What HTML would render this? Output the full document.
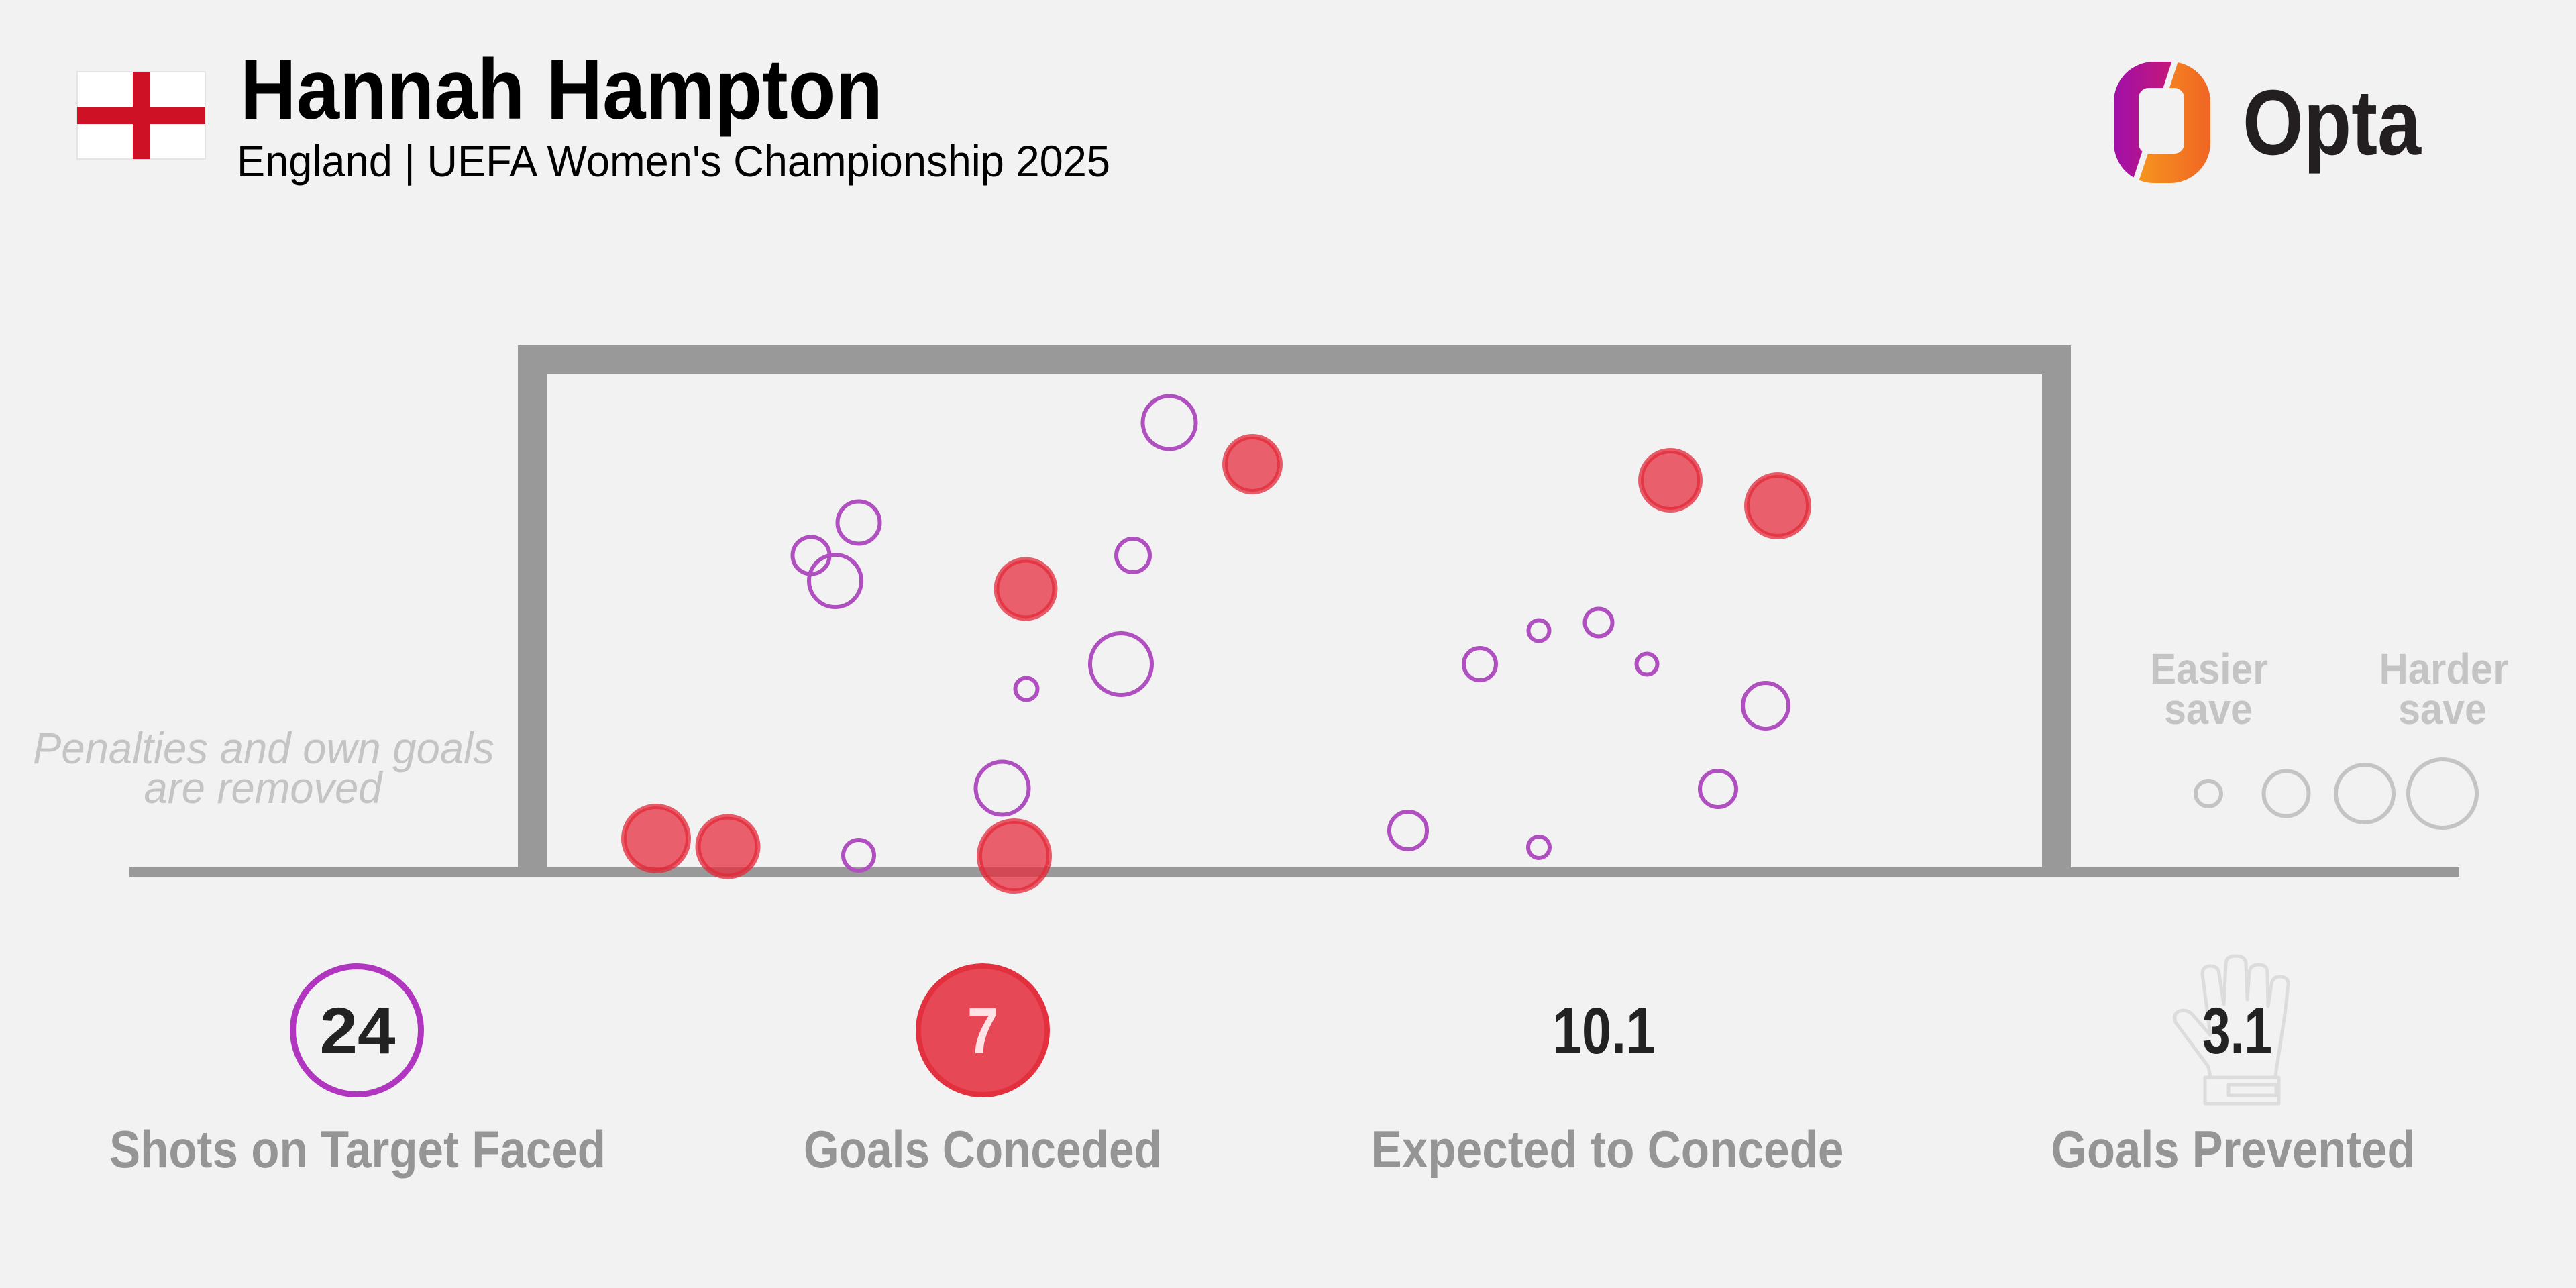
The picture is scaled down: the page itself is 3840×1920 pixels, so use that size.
<!DOCTYPE html>
<html>
<head>
<meta charset="utf-8">
<style>
html,body{margin:0;padding:0;background:#f2f2f2;}
svg{display:block;}
</style>
</head>
<body>
<svg width="3840" height="1920" viewBox="0 0 3840 1920" xmlns="http://www.w3.org/2000/svg" font-family="'Liberation Sans', sans-serif">
  <defs>
    <linearGradient id="gL" x1="0" y1="0" x2="1" y2="0">
      <stop offset="0" stop-color="#a010a8"/>
      <stop offset="1" stop-color="#dc1c58"/>
    </linearGradient>
    <linearGradient id="gR" x1="0" y1="0" x2="1" y2="0">
      <stop offset="0" stop-color="#f8a61c"/>
      <stop offset="1" stop-color="#f06524"/>
    </linearGradient>
    <clipPath id="cL"><polygon points="3100,70 3246,80 3177,290 3100,300"/></clipPath>
    <clipPath id="cR"><polygon points="3246,80 3330,70 3330,300 3177,290"/></clipPath>
  </defs>

  <rect x="0" y="0" width="3840" height="1920" fill="#f2f2f2"/>

  <!-- Flag -->
  <rect x="115" y="107" width="191" height="130" fill="#ffffff" stroke="#e4e4e4" stroke-width="2"/>
  <rect x="198" y="107" width="26" height="130" fill="#ce1124"/>
  <rect x="115" y="159" width="191" height="26" fill="#ce1124"/>

  <!-- Title -->
  <text x="358" y="177" font-size="127" font-weight="bold" fill="#000" textLength="958" lengthAdjust="spacingAndGlyphs">Hannah Hampton</text>
  <text x="353" y="263" font-size="66" fill="#000" textLength="1302" lengthAdjust="spacingAndGlyphs">England | UEFA Women's Championship 2025</text>

  <!-- Opta logo -->
  <g clip-path="url(#cL)">
    <path fill-rule="evenodd" fill="url(#gL)" d="M3211,92 H3235 A60,60 0 0 1 3295,152 V213 A60,60 0 0 1 3235,273 H3211 A60,60 0 0 1 3151,213 V152 A60,60 0 0 1 3211,92 Z M3203,131 H3241 A15,15 0 0 1 3256,146 V214 A15,15 0 0 1 3241,229 H3203 A15,15 0 0 1 3188,214 V146 A15,15 0 0 1 3203,131 Z"/>
  </g>
  <g clip-path="url(#cR)">
    <path fill-rule="evenodd" fill="url(#gR)" d="M3211,92 H3235 A60,60 0 0 1 3295,152 V213 A60,60 0 0 1 3235,273 H3211 A60,60 0 0 1 3151,213 V152 A60,60 0 0 1 3211,92 Z M3203,131 H3241 A15,15 0 0 1 3256,146 V214 A15,15 0 0 1 3241,229 H3203 A15,15 0 0 1 3188,214 V146 A15,15 0 0 1 3203,131 Z"/>
  </g>
  <line x1="3246" y1="80" x2="3177" y2="290" stroke="#f2f2f2" stroke-width="9"/>
  <text x="3343" y="230" font-size="138" font-weight="bold" fill="#231f20" textLength="266" lengthAdjust="spacingAndGlyphs">Opta</text>

  <!-- Goal frame -->
  <rect x="193" y="1293" width="3473" height="14" fill="#999999"/>
  <rect x="772" y="515" width="44" height="785" fill="#999999"/>
  <rect x="3044" y="515" width="43" height="785" fill="#999999"/>
  <rect x="772" y="515" width="2315" height="43" fill="#999999"/>

  <!-- Note -->
  <g font-style="italic" fill="#c4c4c4" font-size="66" text-anchor="middle">
    <text x="393" y="1138" textLength="688" lengthAdjust="spacingAndGlyphs">Penalties and own goals</text>
    <text x="392" y="1197" textLength="355" lengthAdjust="spacingAndGlyphs">are removed</text>
  </g>

  <!-- Saves -->
  <g fill="none" stroke="#b04fc0" stroke-width="6">
    <circle cx="1743" cy="630" r="39.5"/>
    <circle cx="1280" cy="779" r="31.5"/>
    <circle cx="1209" cy="828" r="27.5"/>
    <circle cx="1245" cy="866" r="39"/>
    <circle cx="1689" cy="828" r="25"/>
    <circle cx="1530" cy="1027" r="16.5"/>
    <circle cx="1671" cy="990" r="46"/>
    <circle cx="1494" cy="1175" r="39.5"/>
    <circle cx="1280" cy="1275" r="23"/>
    <circle cx="2099" cy="1238" r="28"/>
    <circle cx="2294" cy="1263" r="16"/>
    <circle cx="2206" cy="990" r="24"/>
    <circle cx="2294" cy="940" r="15.5"/>
    <circle cx="2383" cy="928" r="20.5"/>
    <circle cx="2455" cy="990" r="15.5"/>
    <circle cx="2632" cy="1052" r="34"/>
    <circle cx="2561" cy="1176" r="27"/>
  </g>

  <!-- Goals -->
  <g fill="rgba(229,45,61,0.75)" stroke="rgba(226,40,56,0.75)" stroke-width="8">
    <circle cx="1867" cy="692" r="41"/>
    <circle cx="1529" cy="878" r="43.5"/>
    <circle cx="978" cy="1250" r="48"/>
    <circle cx="1085" cy="1262" r="44.5"/>
    <circle cx="1512" cy="1276" r="52"/>
    <circle cx="2490" cy="716" r="44"/>
    <circle cx="2650" cy="754" r="46"/>
  </g>

  <!-- Legend -->
  <g fill="#c4c4c4" font-weight="bold" font-size="64" text-anchor="middle">
    <text x="3293" y="1019" textLength="176" lengthAdjust="spacingAndGlyphs">Easier</text>
    <text x="3292" y="1079" textLength="132" lengthAdjust="spacingAndGlyphs">save</text>
    <text x="3643" y="1019" textLength="193" lengthAdjust="spacingAndGlyphs">Harder</text>
    <text x="3641" y="1079" textLength="132" lengthAdjust="spacingAndGlyphs">save</text>
  </g>
  <g fill="none" stroke="#c4c4c4" stroke-width="6">
    <circle cx="3292" cy="1183" r="19"/>
    <circle cx="3408" cy="1183" r="33.5"/>
    <circle cx="3525" cy="1183" r="43"/>
    <circle cx="3641" cy="1183" r="51"/>
  </g>

  <!-- Stats -->
  <circle cx="532" cy="1536" r="95.5" fill="none" stroke="#b035bf" stroke-width="9"/>
  <circle cx="1465" cy="1536" r="96" fill="#e74856" stroke="#e2303f" stroke-width="8"/>

  <!-- Glove -->
  <g fill="none" stroke="#dcdcdc" stroke-width="5" stroke-linejoin="round">
    <path d="M3295,1605 L3292,1590 L3243,1524 Q3238,1508 3254,1506 Q3262,1506 3268,1512 L3295,1543 L3283,1452 Q3283,1440 3295,1440 Q3307,1440 3308,1452 L3315,1497 L3318,1437 Q3318,1425 3333,1425 Q3348,1425 3348,1437 L3350,1490 L3353,1450 Q3354,1438 3367,1438 Q3380,1438 3380,1450 L3381,1500 L3386,1468 Q3387,1456 3399,1456 Q3412,1456 3411,1468 L3406,1512 L3393,1597 L3392,1605"/>
    <rect x="3287" y="1606" width="110" height="39"/>
    <rect x="3322" y="1617" width="71" height="16"/>
  </g>

  <g font-weight="bold" font-size="97" text-anchor="middle" fill="#222222">
    <text x="533" y="1570" textLength="113" lengthAdjust="spacingAndGlyphs">24</text>
    <text x="1465" y="1570" fill="#fde3e6" textLength="46" lengthAdjust="spacingAndGlyphs">7</text>
    <text x="2391" y="1570" textLength="154" lengthAdjust="spacingAndGlyphs">10.1</text>
    <text x="3335" y="1570" textLength="104" lengthAdjust="spacingAndGlyphs">3.1</text>
  </g>

  <g font-weight="bold" font-size="78" text-anchor="middle" fill="#959595">
    <text x="533" y="1740" textLength="740" lengthAdjust="spacingAndGlyphs">Shots on Target Faced</text>
    <text x="1465" y="1740" textLength="534" lengthAdjust="spacingAndGlyphs">Goals Conceded</text>
    <text x="2396" y="1740" textLength="705" lengthAdjust="spacingAndGlyphs">Expected to Concede</text>
    <text x="3329" y="1740" textLength="543" lengthAdjust="spacingAndGlyphs">Goals Prevented</text>
  </g>
</svg>
</body>
</html>
